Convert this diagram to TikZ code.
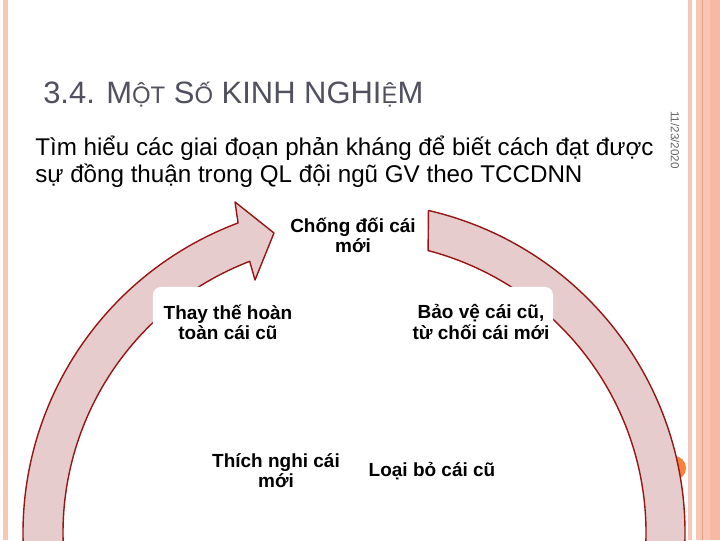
\documentclass[tikz,border=0pt]{standalone}
\usepackage{fontspec}
\setmainfont{Liberation Sans}
\usetikzlibrary{positioning}
\definecolor{cyframe}{RGB}{248,198,180}
\definecolor{cyframedk}{RGB}{246,186,164}
\definecolor{cyline}{RGB}{232,160,128}
\definecolor{cyfill}{RGB}{230,204,204}
\definecolor{cyedge}{RGB}{150,22,22}
\definecolor{cyorange}{RGB}{246,130,60}
\definecolor{cytitle}{RGB}{80,80,95}
\newcommand\cysmall[1]{{\fontsize{17}{17}\selectfont #1}}
\tikzset{
  cy/.style={font=\fontsize{13.5}{14.4}\selectfont\bfseries, text=black, align=center, inner sep=1pt},
  cybox/.style={cy, fill=white, rounded corners=0.2cm, minimum width=#1, minimum height=1.75cm},
  cyarc/.style={draw=cyedge, fill=cyfill, line width=1pt, line join=round},
  cytext/.style={font=\fontsize{17.2}{19.9}\selectfont, text=black, align=left, inner sep=0pt},
}

\begin{document}
\begin{tikzpicture}[x=0.025cm, y=0.025cm]
    \useasboundingbox (0,0) rectangle (720,540);
    \fill[white] (0,0) rectangle (720,540);

    % slide frame
    \fill[cyframe] (3,0) rectangle (8,540);
    \fill[cyframe] (688,0) rectangle (692,540);
    \fill[cyframe] (696,0) rectangle (720,540);
    \fill[cyframedk] (710,0) rectangle (720,540);
    \draw[cyline, line width=0.7pt] (702,0) -- (702,540);
    \fill[cyorange] (674,72) circle (12);

    \coordinate (ctr) at (354,7);
    \coordinate (barbout) at (235,338);
    \coordinate (tip) at (274,307);
    \coordinate (barbin) at (255,260);

    \begin{scope}
      \clip (0,0) rectangle (720,540);
      % right half of the cycle
      \draw[cyarc] ([shift={(77:331)}]ctr) arc[start angle=77, end angle=-4, radius=331]
        -- ([shift={(-4:292)}]ctr) arc[start angle=-4, end angle=75.3, radius=292] -- cycle;
      % left half, ending in the arrow head
      \draw[cyarc] ([shift={(184:331)}]ctr) arc[start angle=184, end angle=110.5, radius=331]
        -- (barbout) -- (tip) -- (barbin)
        -- ([shift={(111:291)}]ctr) arc[start angle=111, end angle=184, radius=291] -- cycle;
    \end{scope}

    \node[cytext, anchor=base west, text=cytitle, font=\fontsize{22}{22}\selectfont] (title) at (43,436)
      {3.4. M\cysmall{ỘT} S\cysmall{Ố} KINH NGHI\cysmall{Ệ}M};
    \node[cytext, anchor=base west] (intro) at (35,357)
      {Tìm hiểu các giai đoạn phản kháng để biết cách đạt được\\sự đồng thuận trong QL đội ngũ GV theo TCCDNN};
    \node[rotate=-90, text=black!60, font=\fontsize{8.3}{9}\selectfont, inner sep=0pt] (date) at (675,400) {11/23/2020};

    \node[cy] (oppose) at (353,305) {Chống đối cái\\mới};
    \node[cybox=3.75cm] (replace) at (228,218) {Thay thế hoàn\\toàn cái cũ};
    \node[cybox=3.6cm] (defend) at (481,218) {Bảo vệ cái cũ,\\từ chối cái mới};
    \node[cy] (adapt) at (276,69) {Thích nghi cái\\mới};
    \node[cy] (discard) at (432,69) {Loại bỏ cái cũ};
  \end{tikzpicture}
\end{document}
